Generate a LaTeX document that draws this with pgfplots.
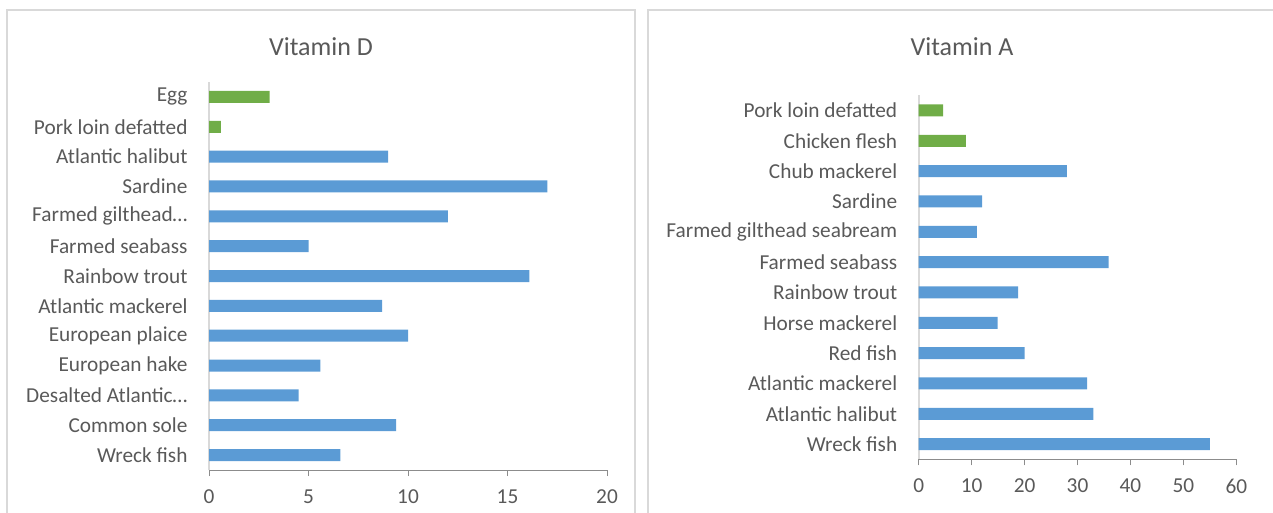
\documentclass[border=0pt]{standalone}
\usepackage{fontspec}
\setmainfont{Carlito}
\usepackage{pgfplots}
\pgfplotsset{compat=1.18}

\definecolor{barblue}{HTML}{5B9BD5}
\definecolor{bargreen}{HTML}{70AD47}
\definecolor{txtgray}{HTML}{595959}
\definecolor{framegray}{HTML}{D9D9D9}
\definecolor{axgray}{HTML}{8C8C8C}

\pgfplotsset{
  vitbars/.style={
    scale only axis,
    xbar,
    bar width=12pt,
    bar shift=0pt,
    axis x line*=bottom,
    axis y line*=left,
    x axis line style={axgray, line width=0.9pt},
    y axis line style={framegray, line width=1.6pt},
    xtick style={axgray, line width=0.9pt},
    ytick style={draw=none},
    tick align=outside,
    major tick length=6pt,
    ymin=-0.5,
    xmin=0,
    /pgf/number format/assume math mode=true,
    ticklabel style={font=\fontsize{21.3}{24}\selectfont, text=txtgray},
    xticklabel style={yshift=-10pt},
    yticklabel style={xshift=-12pt},
    clip=false,
  },
}

\begin{document}
\begin{tikzpicture}
\useasboundingbox (0,0) rectangle (1273pt,512pt);
\clip (0,0) rectangle (1273pt,512pt);

% panel frames
\draw[framegray, line width=1.4pt] (7pt,-20pt) rectangle (635pt,502pt);
\draw[framegray, line width=1.4pt] (648pt,-20pt) rectangle (1290pt,502pt);

% titles
\node[text=txtgray, font=\fontsize{26}{30}\selectfont] at (321pt,465pt) {Vitamin D};
\node[text=txtgray, font=\fontsize{26}{30}\selectfont] at (962pt,465pt) {Vitamin A};

% Vitamin D
\begin{axis}[
  vitbars,
  at={(209pt,42pt)}, anchor=south west,
  width=398pt, height=388pt,
  xmax=20, ymax=12.5,
  xtick={0,5,10,15,20},
  ytick={0,...,12},
  yticklabels={Wreck fish, Common sole, Desalted Atlantic…\hspace{-16pt}, European hake,
    European plaice, Atlantic mackerel, Rainbow trout, Farmed seabass,
    Farmed gilthead…\hspace{-16pt}, Sardine, Atlantic halibut, Pork loin defatted, Egg},
]
\addplot[fill=barblue, draw=none] coordinates {
  (6.6,0) (9.4,1) (4.5,2) (5.6,3) (10.0,4) (8.7,5) (16.1,6)
  (5.0,7) (12.0,8) (17.0,9) (9.0,10)
};
\addplot[fill=bargreen, draw=none] coordinates {
  (0.6,11) (3.05,12)
};
\end{axis}

% Vitamin A
\begin{axis}[
  vitbars,
  at={(918.7pt,52.7pt)}, anchor=south west,
  width=317.6pt, height=364pt,
  xmax=60, ymax=11.5,
  xtick={0,10,...,60},
  ytick={0,...,11},
  yticklabels={Wreck fish, Atlantic halibut, Atlantic mackerel, Red fish\hspace{4.5pt},
    Horse mackerel, Rainbow trout, Farmed seabass, Farmed gilthead seabream,
    Sardine, Chub mackerel, Chicken flesh, Pork loin defatted},
]
\addplot[fill=barblue, draw=none] coordinates {
  (55,0) (33,1) (31.8,2) (20,3) (14.9,4) (18.8,5) (35.9,6)
  (11,7) (12,8) (28,9)
};
\addplot[fill=bargreen, draw=none] coordinates {
  (8.9,10) (4.6,11)
};
\end{axis}
\end{tikzpicture}
\end{document}
